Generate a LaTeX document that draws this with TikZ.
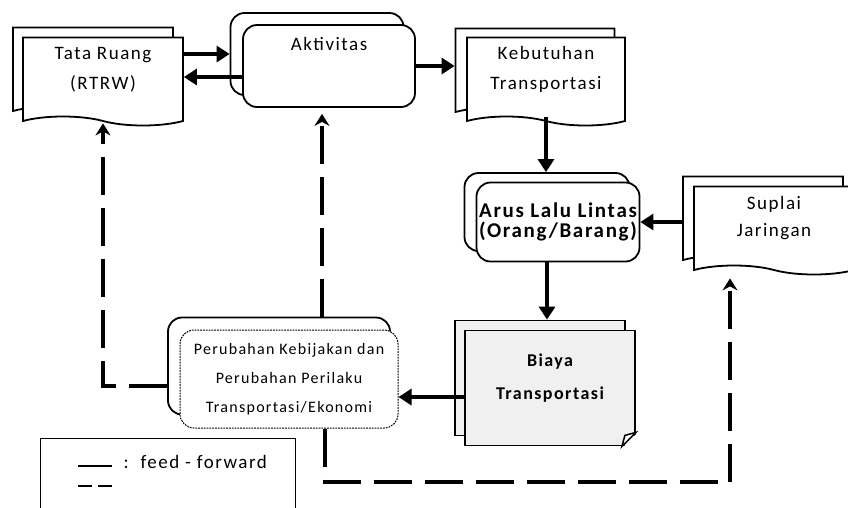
\documentclass[tikz,border=0pt]{standalone}
\usepackage{fontspec}
\setmainfont{Carlito}[LetterSpace=8]
\usetikzlibrary{arrows.meta,shapes.symbols}

\tikzset{
  doc/.style={tape, tape bend top=none, tape bend bottom=out and in, tape bend height=9pt,
    draw, fill=white, line width=1.8pt, align=center, minimum width=160pt, minimum height=88pt,
    font=\fontsize{19}{30}\selectfont},
  roundbox/.style={rectangle, rounded corners=14pt, draw, fill=white, line width=1.8pt,
    align=center, font=\fontsize{19}{30}\selectfont},
  notebox/.style={rectangle, draw, fill=gray!12, line width=1.8pt, align=center,
    minimum width=170pt, minimum height=115pt, font=\fontsize{18}{33}\selectfont\bfseries},
  lift/.style={text depth=#1},
  flow/.style={line width=4.5pt, -{Triangle[length=13pt,width=16pt]}},
  fb/.style={line width=4pt, dash pattern=on 38pt off 13pt, -{Stealth[length=12pt,width=15pt,inset=4pt]}}
}

\begin{document}
\begin{tikzpicture}[x=1pt, y=-1pt]
  \useasboundingbox (0,0) rectangle (848,507);

  % Kotak (belakang dulu, lalu depan)
  \node[doc] (tataB) at (93,67) {};
  \node[doc, lift=17pt] (tata) at (103,77) {Tata Ruang\\(RTRW)};

  \node[roundbox, minimum width=173pt, minimum height=82pt] (aktB) at (317,54) {};
  \node[roundbox, minimum width=172pt, inner ysep=0pt, text height=25pt, text depth=57pt] (akt) at (329,66) {Aktivitas};

  \node[doc, minimum width=159pt] (kebB) at (535,68) {};
  \node[doc, minimum width=158pt, lift=18pt] (keb) at (546,77) {Kebutuhan\\Transportasi};

  \node[roundbox, minimum width=165pt, minimum height=78pt] (arusB) at (547,212) {};
  \node[roundbox, minimum width=163pt, minimum height=79pt, inner xsep=0pt,
        font=\fontsize{21}{20}\selectfont\bfseries] (arus) at (558,222) {Arus Lalu Lintas\\(Orang/Barang)};

  \node[doc] (supB) at (763,216) {};
  \node[doc, lift=19pt, font=\fontsize{19}{27}\selectfont] (sup) at (774,226) {Suplai\\Jaringan};

  \node[notebox] (biayaB) at (540,378) {};
  \node[notebox, lift=23pt] (biaya) at (550,388) {Biaya\\Transportasi};
  \fill[white] ([xshift=-14pt,yshift=-2pt]biaya.south east) -- ([xshift=2pt,yshift=-2pt]biaya.south east)
    -- ([xshift=2pt,yshift=14pt]biaya.south east) -- cycle;
  \draw[line width=1.5pt, fill=white] ([xshift=-14pt]biaya.south east) -- ([yshift=14pt]biaya.south east)
    -- ([xshift=-11pt,yshift=11pt]biaya.south east) -- cycle;

  \node[roundbox, minimum width=222pt, minimum height=97pt] (perubB) at (279,366) {};
  \node[roundbox, densely dotted, line width=1pt, minimum width=218pt, minimum height=98pt,
        font=\fontsize{16}{29}\selectfont] (perub) at (289,379) {Perubahan Kebijakan dan\\Perubahan Perilaku\\Transportasi/Ekonomi};

  % Keterangan
  \node[draw, line width=1.2pt, minimum width=255pt, minimum height=90pt, anchor=north west] (legend) at (40,438) {};
  \node[anchor=west, font=\fontsize{19}{22}\selectfont] (ffwd) at (120,462) {:\hspace{12pt}feed - forward};
  \draw[line width=1.5pt] (78,466) -- (112,466);
  \draw[line width=1.5pt, dash pattern=on 14pt off 6pt] (78,486) -- (112,486);

  % Panah feed-forward
  \draw[flow] (tata.east |- aktB.west) -- (aktB.west);
  \draw[flow] (akt.west |- tata.east) -- (tata.east);
  \draw[flow] (akt.east) -- (akt.east -| kebB.west);
  \draw[flow] (keb.south) -- (keb.south |- arusB.north);
  \draw[flow] (supB.west |- arus.east) -- (arus.east);
  \draw[flow] (arusB.south |- arus.south) -- (arusB.south |- biayaB.north);
  \draw[flow] (biaya.186) -- (biaya.186 -| perub.east);

  % Panah feedback
  \coordinate (aktin) at ([xshift=-7pt]akt.south);
  \coordinate (fbturn) at (730,482);
  \coordinate (perubout) at ([xshift=36pt]perub.south);
  \draw[fb, shorten >=6pt] ([yshift=-20pt]perubB.west) -| (tata.south);
  \draw[fb, shorten >=6pt] (aktin |- perubB.north) -- (aktin);
  \draw[fb, shorten >=12pt] (perubout) |- (fbturn) -- (fbturn |- sup.south);
\end{tikzpicture}
\end{document}
